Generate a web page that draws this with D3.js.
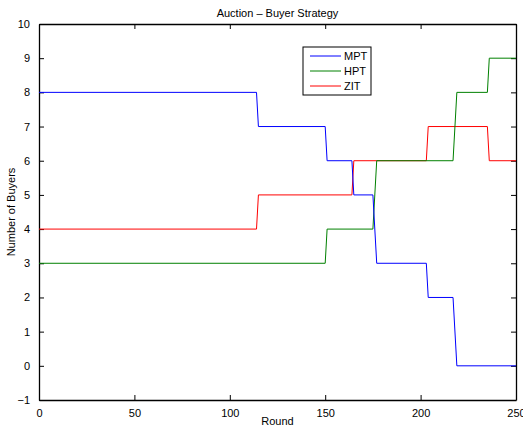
<!DOCTYPE html>
<html>
<head>
<meta charset="utf-8">
<script src="https://cdn.jsdelivr.net/npm/d3@7"></script>
<style>
  body { margin: 0; background: #fff; }
  text { font-family: "Liberation Sans", Arial, sans-serif; }
</style>
</head>
<body>
<script>
// step series: round at which each level starts/ends
var mptRounds = [0, 114, 115, 150, 151, 164, 165, 175, 177, 203, 204, 217, 219, 250];
var mptValues = [8, 8, 7, 7, 6, 6, 5, 5, 3, 3, 2, 2, 0, 0];
var hptRounds = [0, 150, 151, 175, 177, 217, 219, 235, 236, 250];
var hptValues = [3, 3, 4, 4, 6, 6, 8, 8, 9, 9];
var zitRounds = [0, 114, 115, 164, 165, 203, 204, 235, 236, 250];
var zitValues = [4, 4, 5, 5, 6, 6, 7, 7, 6, 6];

var seriesNames = ['MPT', 'HPT', 'ZIT'];
var seriesColors = ['#0000ff', '#008000', '#ff0000'];
var xTicks = [0, 50, 100, 150, 200, 250];
var yTicks = [-1, 0, 1, 2, 3, 4, 5, 6, 7, 8, 9, 10];

var W = 523, H = 430;
var margin = {top: 24, right: 7, bottom: 30, left: 39};

var svg = d3.select('body').append('svg').attr('width', W).attr('height', H);

var x = d3.scaleLinear().domain([0, 250]).range([margin.left, W - margin.right]);
var y = d3.scaleLinear().domain([-1, 10]).range([H - margin.bottom, margin.top]);

function fmt(d) { return d < 0 ? '\u2212' + Math.abs(d) : String(d); }

// axes with inward ticks on all sides
svg.append('g').attr('transform', 'translate(0,' + y(-1) + ')')
    .call(d3.axisBottom(x).tickValues(xTicks).tickSizeInner(-5).tickSizeOuter(0).tickPadding(9).tickFormat(fmt));
svg.append('g').attr('transform', 'translate(0,' + y(10) + ')')
    .call(d3.axisTop(x).tickValues(xTicks).tickSizeInner(-5).tickSizeOuter(0).tickFormat(''));
svg.append('g').attr('transform', 'translate(' + x(0) + ',0)')
    .call(d3.axisLeft(y).tickValues(yTicks).tickSizeInner(-5).tickSizeOuter(0).tickPadding(9).tickFormat(fmt));
svg.append('g').attr('transform', 'translate(' + x(250) + ',0)')
    .call(d3.axisRight(y).tickValues(yTicks).tickSizeInner(-5).tickSizeOuter(0).tickFormat(''));

svg.selectAll('.domain').attr('stroke', '#000').attr('stroke-width', 1.3);
svg.selectAll('.tick line').attr('stroke', '#000');
svg.selectAll('.tick text').attr('font-size', 11).attr('fill', '#000')
    .attr('font-family', '"Liberation Sans", Arial, sans-serif');

var line = d3.line().x(function(d) { return x(d[0]); }).y(function(d) { return y(d[1]); });

var series = [
    d3.zip(mptRounds, mptValues),
    d3.zip(hptRounds, hptValues),
    d3.zip(zitRounds, zitValues)
];

// draw order: ZIT, HPT, MPT on top like the picture
[2, 1, 0].forEach(function(i) {
    svg.append('path').datum(series[i])
        .attr('fill', 'none')
        .attr('stroke', seriesColors[i])
        .attr('stroke-width', 1)
        .attr('d', line);
});

// title & labels
svg.append('text').attr('x', (x(0) + x(250)) / 2).attr('y', 17)
    .attr('text-anchor', 'middle').attr('font-size', 11).text('Auction \u2013 Buyer Strategy');
svg.append('text').attr('x', (x(0) + x(250)) / 2).attr('y', 425)
    .attr('text-anchor', 'middle').attr('font-size', 11).text('Round');
svg.append('text').attr('transform', 'translate(15,' + (y(-1) + y(10)) / 2 + ') rotate(-90)')
    .attr('text-anchor', 'middle').attr('font-size', 11).text('Number of Buyers');

// legend
var lg = svg.append('g').attr('transform', 'translate(303,47)');
lg.append('rect').attr('width', 68).attr('height', 48)
    .attr('fill', '#fff').attr('stroke', '#000').attr('stroke-width', 1);
seriesNames.forEach(function(name, i) {
    var yy = 9 + i * 15;
    lg.append('line').attr('x1', 7).attr('x2', 38).attr('y1', yy).attr('y2', yy)
        .attr('stroke', seriesColors[i]).attr('stroke-width', 1);
    lg.append('text').attr('x', 41).attr('y', yy + 4).attr('font-size', 11).text(name);
});
</script>
</body>
</html>
